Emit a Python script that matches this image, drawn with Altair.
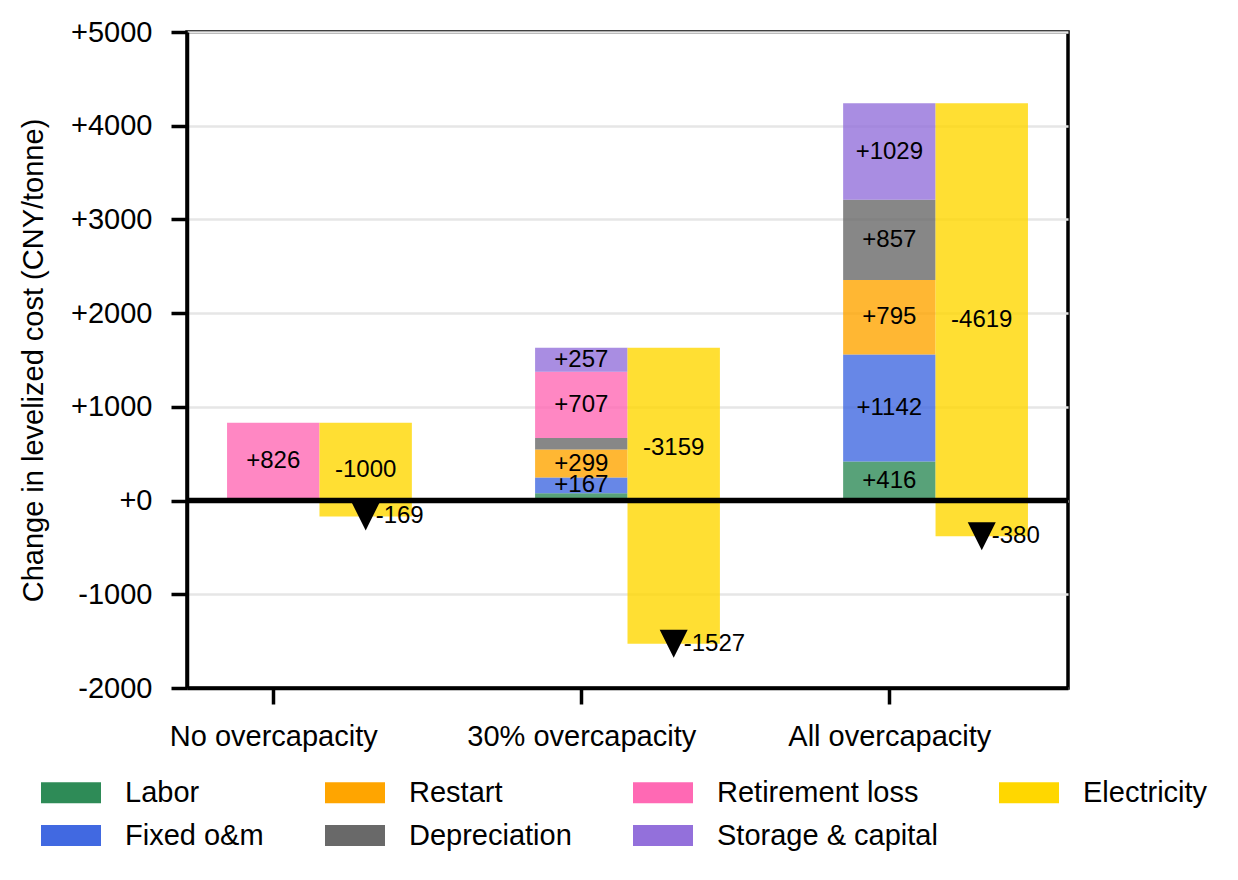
import altair as alt
import pandas as pd

# ---- data ----
categories = ["No overcapacity", "30% overcapacity", "All overcapacity"]
components = ["Labor", "Fixed o&m", "Restart", "Depreciation", "Retirement loss", "Storage & capital"]
labor = [5, 78, 416]
fixed_om = [0, 167, 1142]
restart = [0, 299, 795]
depreciation = [0, 124, 857]
retirement_loss = [826, 707, 0]
storage_capital = [0, 257, 1029]
electricity = [-1000, -3159, -4619]
net_change = [-169, -1527, -380]
# where the electricity value label sits (value axis), as placed in the reference
electricity_label_at = [331, 560, 1930]

colors = {
    "Labor": "#2E8B57",
    "Fixed o&m": "#4169E1",
    "Restart": "#FFA500",
    "Depreciation": "#696969",
    "Retirement loss": "#FF69B4",
    "Storage & capital": "#9370DB",
    "Electricity": "#FFD700",
}
legend_order = components + ["Electricity"]

series = [labor, fixed_om, restart, depreciation, retirement_loss, storage_capital]
BAR_W = 0.3
FONT = "Liberation Sans"
BIG = 29
SMALL = 24

rows = []
for i, cat in enumerate(categories):
    base = 0
    for k, (name, vals) in enumerate(zip(components, series)):
        v = vals[i]
        rows.append({
            "pos": i, "x0": i - BAR_W / 2, "x1": i + BAR_W / 2,
            "y0": base, "y1": base + v, "ymid": base + v / 2,
            "component": name, "order": k, "value": v,
            "label": ("+%d" % v) if v >= 150 else "",
        })
        base += v
stack_df = pd.DataFrame(rows)

elec_rows = []
for i, cat in enumerate(categories):
    top = sum(s[i] for s in series)
    elec_rows.append({
        "pos": i, "x0": i + BAR_W / 2, "x1": i + 1.5 * BAR_W, "xc": i + BAR_W,
        "y0": top, "y1": net_change[i], "ymid": electricity_label_at[i],
        "component": "Electricity", "value": electricity[i],
        "label": "%d" % electricity[i], "net": net_change[i],
        "netlabel": "%d" % net_change[i],
    })
elec_df = pd.DataFrame(elec_rows)

xscale = alt.Scale(domain=[-0.28, 2.58], nice=False, zero=False)
yscale = alt.Scale(domain=[-2000, 5000], nice=False)
cscale = alt.Scale(domain=legend_order, range=[colors[c] for c in legend_order])

label_expr = "[" + ",".join("'%s'" % c for c in categories) + "][datum.value]"

x_axis = alt.Axis(values=[0, 1, 2], labelExpr=label_expr, title=None, grid=False,
                  tickSize=16, tickWidth=3.5, tickColor="black", domainColor="black",
                  domainWidth=3.5, labelFontSize=BIG, labelFont=FONT, labelColor="black",
                  labelPadding=18, labelAngle=0, labelLimit=600)
y_axis = alt.Axis(values=list(range(-2000, 5001, 1000)),
                  labelExpr="(datum.value >= 0 ? '+' : '') + datum.value",
                  title="Change in levelized cost (CNY/tonne)", grid=True,
                  gridColor="#e6e6e6", gridWidth=2.5,
                  tickSize=16, tickWidth=3.5, tickColor="black", domainColor="black",
                  domainWidth=3.5, labelFontSize=BIG, labelFont=FONT, labelColor="black",
                  labelPadding=19, titleFontSize=BIG, titleFont=FONT, titleFontWeight="normal",
                  titleColor="black", titlePadding=22, labelLimit=400, titleLimit=900)

legend = alt.Legend(title=None, orient="none", legendX=-146, legendY=746, columns=4,
                    symbolType="M-1,-0.35 h2 v0.7 h-2 Z", symbolSize=3600,
                    symbolStrokeWidth=0, symbolOpacity=1, labelFontSize=BIG, labelFont=FONT,
                    labelColor="black", labelOffset=24, columnPadding=61, rowPadding=13,
                    clipHeight=29, labelLimit=500)

stack_bars = alt.Chart(stack_df).mark_rect(opacity=0.8).encode(
    x=alt.X("x0:Q", scale=xscale, axis=x_axis),
    x2="x1",
    y=alt.Y("y0:Q", scale=yscale, axis=y_axis),
    y2="y1",
    color=alt.Color("component:N", scale=cscale, legend=legend),
)

elec_bars = alt.Chart(elec_df).mark_rect(opacity=0.8).encode(
    x=alt.X("x0:Q", scale=xscale),
    x2="x1",
    y=alt.Y("y0:Q", scale=yscale),
    y2="y1",
    color=alt.Color("component:N", scale=cscale, legend=legend),
)

zero_line = alt.Chart(pd.DataFrame({"y": [0]})).mark_rule(color="black", strokeWidth=5.5).encode(
    y=alt.Y("y:Q", scale=yscale)
)

stack_labels = alt.Chart(stack_df).mark_text(fontSize=SMALL, font=FONT, color="black",
                                              baseline="middle", align="center").encode(
    x=alt.X("pos:Q", scale=xscale),
    y=alt.Y("ymid:Q", scale=yscale),
    text="label:N",
)

elec_labels = alt.Chart(elec_df).mark_text(fontSize=SMALL, font=FONT, color="black",
                                            baseline="middle", align="center").encode(
    x=alt.X("xc:Q", scale=xscale),
    y=alt.Y("ymid:Q", scale=yscale),
    text="label:N",
)

markers = alt.Chart(elec_df).mark_point(shape="M-1,-1 L1,-1 L0,1 Z", size=784, filled=True,
                                         color="black", opacity=1, strokeWidth=0).encode(
    x=alt.X("xc:Q", scale=xscale),
    y=alt.Y("net:Q", scale=yscale),
)

marker_labels = alt.Chart(elec_df).mark_text(fontSize=SMALL, font=FONT, color="black",
                                              baseline="middle", align="left", dx=10).encode(
    x=alt.X("xc:Q", scale=xscale),
    y=alt.Y("net:Q", scale=yscale),
    text="netlabel:N",
)

chart = alt.layer(
    stack_bars, elec_bars, zero_line, stack_labels, elec_labels, markers, marker_labels
).properties(
    width=881, height=656,
    autosize=alt.AutoSizeParams(type="none"),
    padding={"left": 179, "top": 24, "right": 160, "bottom": 182},
).configure_view(
    stroke="black", strokeWidth=3.5
)

chart.save("out.html", embed_options={"renderer": "svg", "actions": False})
